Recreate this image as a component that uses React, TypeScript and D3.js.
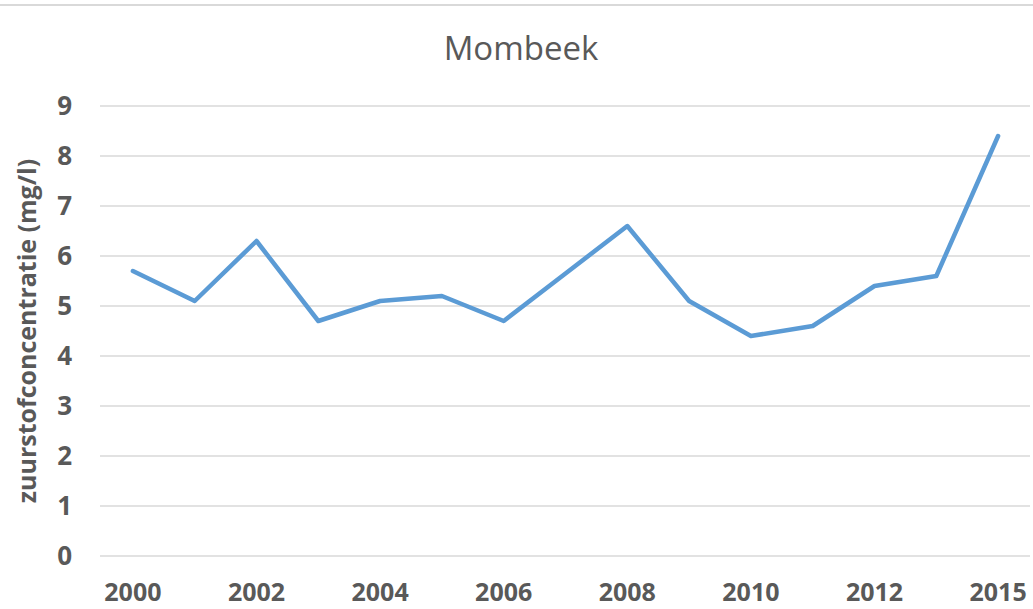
import React from 'react';
import * as d3 from 'd3';

const years = ['2000', '2001', '2002', '2003', '2004', '2005', '2006', '2007', '2008', '2009', '2010', '2011', '2012', '2013', '2015'];
const oxygen = [5.7, 5.1, 6.3, 4.7, 5.1, 5.2, 4.7, 5.65, 6.6, 5.1, 4.4, 4.6, 5.4, 5.6, 8.4];
const yTicks = [0, 1, 2, 3, 4, 5, 6, 7, 8, 9];
const xLabels = ['2000', '2002', '2004', '2006', '2008', '2010', '2012', '2015'];

const W = 1033;
const H = 609;
const font = '"Open Sans", "Noto Sans", sans-serif';
const grey = '#595959';

const App: React.FC = () => {
  const x = d3.scalePoint<string>().domain(years).range([102, 1029]).padding(0.5);
  const y = d3.scaleLinear().domain([0, 9]).range([556, 106]);
  const line = d3.line<number>()
    .x((_, i) => x(years[i]) as number)
    .y(d => y(d));

  return (
    <svg width={W} height={H} style={{ position: 'absolute', left: 0, top: 0, background: '#fff' }}>
      <line x1={0} x2={W} y1={5} y2={5} stroke="#d9d9d9" strokeWidth={2} />
      <text x={521} y={60} textAnchor="middle" fontFamily={font} fontSize={33} fill={grey}>Mombeek</text>

      {yTicks.map(t => (
        <g key={t}>
          <line x1={100} x2={1030} y1={y(t)} y2={y(t)} stroke="#d9d9d9" strokeWidth={1.5} />
          <text x={72} y={y(t)} dy="0.36em" textAnchor="end" fontFamily={font} fontWeight="bold" fontSize={26} fill={grey}>{t}</text>
        </g>
      ))}

      {xLabels.map(l => (
        <text key={l} x={x(l) as number} y={601} textAnchor="middle" fontFamily={font} fontWeight="bold" fontSize={25} fill={grey}>{l}</text>
      ))}

      <text transform="translate(36,331) rotate(-90)" textAnchor="middle" fontFamily={font} fontWeight="bold" fontSize={25} fill={grey}>
        zuurstofconcentratie (mg/l)
      </text>

      <path d={line(oxygen) ?? ''} fill="none" stroke="#5b9bd5" strokeWidth={4.5} strokeLinejoin="round" strokeLinecap="round" />
    </svg>
  );
};

export default App;
